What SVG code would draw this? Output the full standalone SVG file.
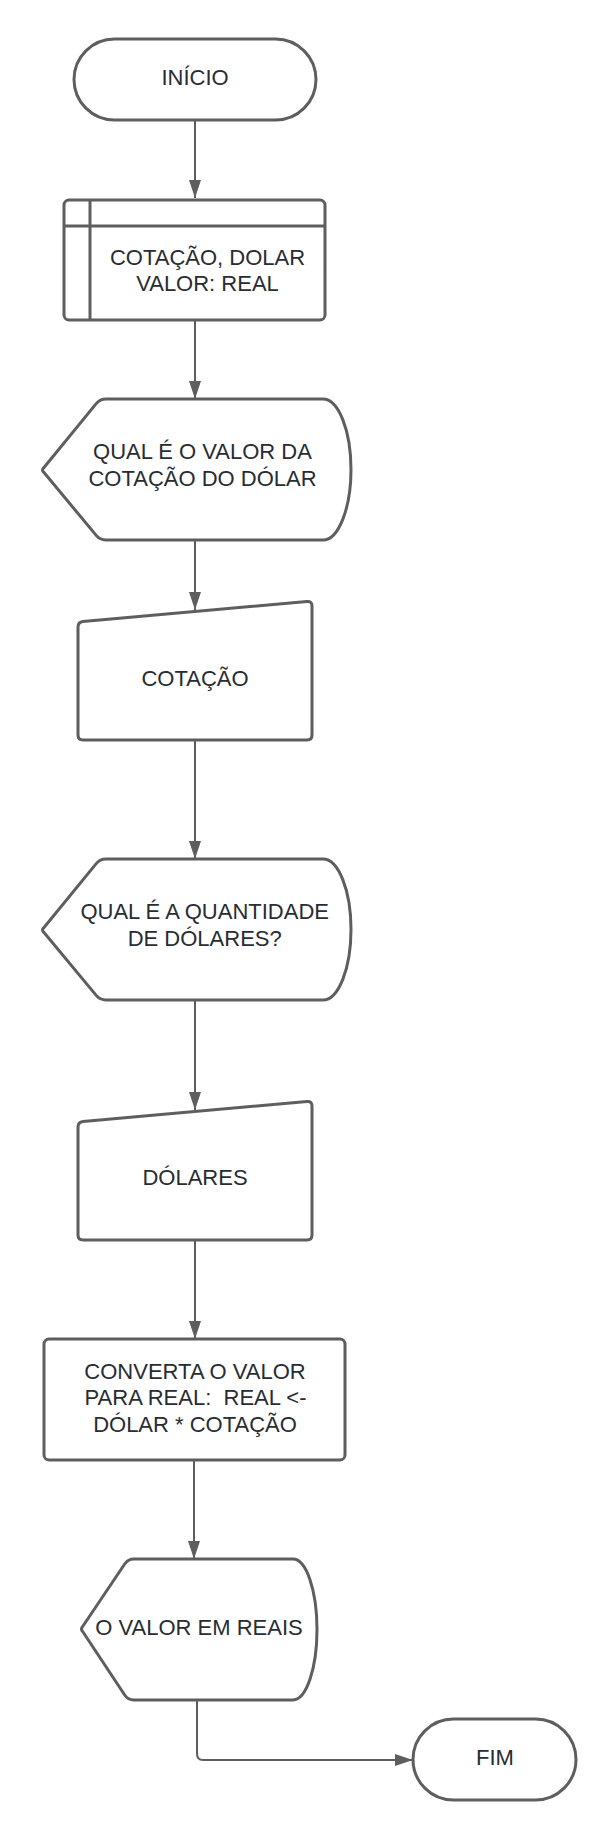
<svg xmlns="http://www.w3.org/2000/svg" width="615" height="1840" viewBox="0 0 615 1840">
<style>
.shape{fill:#ffffff;stroke:#5e5e5e;stroke-width:3;stroke-linejoin:round}
.inner{fill:none;stroke:#5e5e5e;stroke-width:3}
.lbl{font-family:"Liberation Sans",Arial,sans-serif;font-size:22px;fill:#282c33;text-anchor:middle;white-space:pre}
.conn{fill:none;stroke:#5e5e5e;stroke-width:2;marker-end:url(#arr)}
</style>
<defs>
<marker id="arr" markerUnits="userSpaceOnUse" markerWidth="18" markerHeight="12" refX="18" refY="6" orient="auto">
<path d="M0,0 L18,6 L0,12 z" fill="#5e5e5e"/>
</marker>
</defs>
<rect width="615" height="1840" fill="#ffffff"/>
<g id="connectors">
<path class="conn" d="M195,120 L195,198"/>
<path class="conn" d="M195,320 L195,399"/>
<path class="conn" d="M195,540 L195,610"/>
<path class="conn" d="M195,740 L195,859"/>
<path class="conn" d="M195,1000 L195,1110"/>
<path class="conn" d="M195,1240 L195,1339"/>
<path class="conn" d="M194,1460 L194,1559"/>
<path class="conn" d="M197,1700 L197,1754 Q197,1760 203,1760 L413,1760"/>
</g>
<g id="inicio">
<rect class="shape" x="74" y="39" width="242" height="81" rx="40.5"/>
<text class="lbl" x="195" y="85">INÍCIO</text>
</g>
<g id="variaveis">
<rect class="shape" x="64" y="200" width="261" height="120" rx="5"/>
<line class="inner" x1="90" y1="200" x2="90" y2="320"/>
<line class="inner" x1="64" y1="226" x2="325" y2="226"/>
<text class="lbl" x="207.5" y="264.5">COTAÇÃO, DOLAR</text>
<text class="lbl" x="207.5" y="290.5">VALOR: REAL</text>
</g>
<g id="pergunta-cotacao">
<path class="shape" d="M44,472.5 Q41,470 44,467.5 L96.2,403.6 Q100,399 106,399 L323,399 A28,70.5 0 0 1 323,540 L106,540 Q100,540 96.2,535.4 Z"/>
<text class="lbl" x="202.5" y="459">QUAL É O VALOR DA</text>
<text class="lbl" x="202.5" y="486">COTAÇÃO DO DÓLAR</text>
</g>
<g id="entrada-cotacao">
<path class="shape" d="M78,627 Q78,622 83,621.5 L307,601.5 Q312,601 312,606 L312,735 Q312,740 307,740 L83,740 Q78,740 78,735 Z"/>
<text class="lbl" x="195" y="686">COTAÇÃO</text>
</g>
<g id="pergunta-dolares">
<path class="shape" d="M44,932.5 Q41,930 44,927.5 L96.2,863.6 Q100,859 106,859 L323,859 A28,70.5 0 0 1 323,1000 L106,1000 Q100,1000 96.2,995.4 Z"/>
<text class="lbl" x="204.7" y="919">QUAL É A QUANTIDADE</text>
<text class="lbl" x="204.7" y="946">DE DÓLARES?</text>
</g>
<g id="entrada-dolares">
<path class="shape" d="M78,1127 Q78,1122 83,1121.5 L307,1101.5 Q312,1101 312,1106 L312,1235 Q312,1240 307,1240 L83,1240 Q78,1240 78,1235 Z"/>
<text class="lbl" x="195" y="1185">DÓLARES</text>
</g>
<g id="converter">
<rect class="shape" x="44" y="1339" width="301" height="121" rx="5"/>
<text class="lbl" x="195" y="1378.5">CONVERTA O VALOR</text>
<text class="lbl" x="195.5" y="1405">PARA REAL:  REAL &lt;-</text>
<text class="lbl" x="195" y="1431.5">DÓLAR * COTAÇÃO</text>
</g>
<g id="saida-reais">
<path class="shape" d="M83,1632 Q80,1629 83,1626 L124.7,1564 Q128,1559 134,1559 L293,1559 A24,70.5 0 0 1 293,1700 L134,1700 Q128,1700 124.7,1695 Z"/>
<text class="lbl" x="199" y="1635">O VALOR EM REAIS</text>
</g>
<g id="fim">
<rect class="shape" x="413" y="1719" width="163" height="81" rx="40.5"/>
<text class="lbl" x="495" y="1765">FIM</text>
</g>
</svg>
